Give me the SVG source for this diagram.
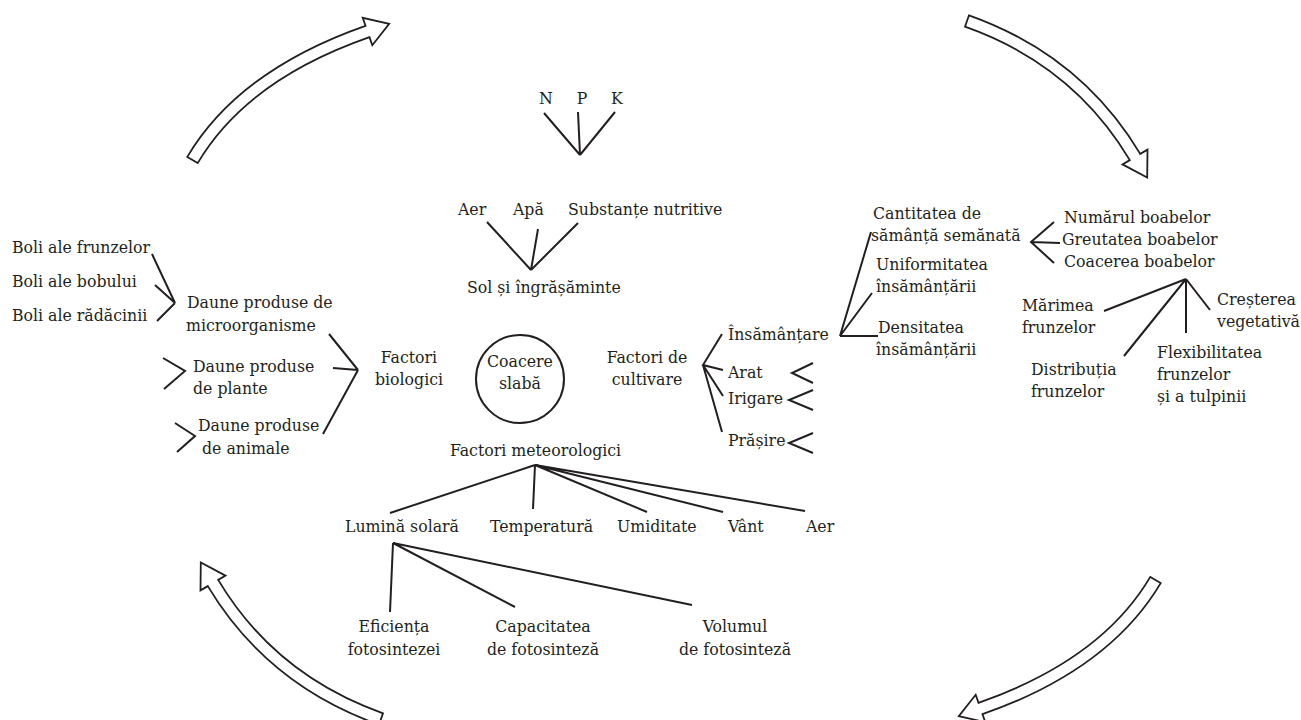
<svg xmlns="http://www.w3.org/2000/svg" width="1301" height="720" viewBox="0 0 1301 720">
  <style>
    .t { font-family: "DejaVu Serif", "Liberation Serif", serif; font-stretch: condensed; font-size: 17.5px; fill: #231f20; }
    .m { text-anchor: middle; }
    .ln { fill: none; stroke: #231f20; stroke-width: 2; stroke-linejoin: miter; stroke-linecap: butt; }
    .blk { fill: #ffffff; stroke: #231f20; stroke-width: 1.8; stroke-linejoin: miter; }
  </style>
  <defs>
    <!-- curved block arrow rising to the upper right -->
    <path id="arrowRise" d="M187.3,156.9 Q238.9,70.1 365.5,25.8 L362.7,17.8 L389.2,23.9 L372.3,45.2 L369.5,37.2 Q246.9,79.9 197.7,163.1 Z"/>
    <!-- curved block arrow falling to the lower right -->
    <path id="arrowFall" d="M969,15.3 Q1081,55.1 1140.2,153.9 L1147.5,149.6 L1147.2,177.6 L1122.5,164.4 L1129.8,160.1 Q1073,64.9 965,26.7 Z"/>
  </defs>

  <rect width="1301" height="720" fill="#ffffff"/>

  <!-- cycle arrows around the diagram -->
  <g id="cycle-arrows">
    <use href="#arrowRise" class="blk"/>
    <use href="#arrowFall" class="blk"/>
    <use href="#arrowRise" class="blk" transform="rotate(180 674 370)"/>
    <use href="#arrowFall" class="blk" transform="rotate(180 674 370)"/>
  </g>

  <g id="connectors">
    <!-- N P K -->
    <path class="ln" d="M544,113 L580,155 M578,112 L580,155 M615,112 L580,155"/>
    <!-- Aer / Apa / Substante -> Sol -->
    <path class="ln" d="M487,222 L531,270 M538,229 L531,270 M578,223 L531,270"/>
    <!-- Boli -> Daune microorganisme -->
    <path class="ln" d="M152,254 L175,303 M155,285 L175,303 M157,321 L175,303"/>
    <!-- open brackets before plant / animal damage -->
    <path class="ln" d="M163,358 L185,371 L164,389"/>
    <path class="ln" d="M175,423 L195,436 L177,452"/>
    <!-- Daune -> Factori biologici -->
    <path class="ln" d="M329,334 L358,370 M333,368 L358,370 M358,370 L323,434"/>
    <!-- Factori de cultivare -->
    <path class="ln" d="M722,334 L703,365 L723,370 M703,365 L723,396 M703,365 L722,432"/>
    <!-- open brackets after Arat / Irigare / Prasire -->
    <path class="ln" d="M813,363 L792,373 L813,383"/>
    <path class="ln" d="M813,390 L789,400 L813,410"/>
    <path class="ln" d="M813,433 L789,443 L813,453"/>
    <!-- Insamantare -> sub-factors -->
    <path class="ln" d="M871,232 L840,336 L872,293 M840,336 L878,336"/>
    <!-- samanta semanata -> boabe -->
    <path class="ln" d="M1054,222 L1031,242 L1054,263 M1031,242 L1060,243"/>
    <!-- Coacerea boabelor -> leaf / stem factors -->
    <path class="ln" d="M1186,279 L1104,311 M1186,279 L1124,356 M1186,279 L1186,333 M1186,279 L1210,310"/>
    <!-- Factori meteorologici -->
    <path class="ln" d="M535,465 L390,513 M535,465 L533,509 M535,465 L647,512 M535,465 L723,512 M535,465 L805,511"/>
    <!-- Lumina solara -->
    <path class="ln" d="M393,543 L390,612 M393,543 L515,607 M393,543 L692,605"/>
  </g>

  <g id="npk">
    <text class="t m" x="546" y="104">N</text>
    <text class="t m" x="582" y="104">P</text>
    <text class="t m" x="617" y="104">K</text>
  </g>
  <g id="aer"><text class="t" x="458" y="215">Aer</text></g>
  <g id="apa"><text class="t" x="513" y="215">Apă</text></g>
  <g id="substante"><text class="t" x="568" y="215">Substanțe nutritive</text></g>
  <g id="sol"><text class="t" x="467" y="293">Sol și îngrășăminte</text></g>

  <g id="boli-frunze"><text class="t" x="12" y="253">Boli ale frunzelor</text></g>
  <g id="boli-bob"><text class="t" x="12" y="287">Boli ale bobului</text></g>
  <g id="boli-radacina"><text class="t" x="12" y="321">Boli ale rădăcinii</text></g>
  <g id="daune-micro">
    <text class="t" x="187" y="308">Daune produse de</text>
    <text class="t" x="186" y="331">microorganisme</text>
  </g>
  <g id="daune-plante">
    <text class="t" x="193" y="372">Daune produse</text>
    <text class="t" x="193" y="394">de plante</text>
  </g>
  <g id="daune-animale">
    <text class="t" x="198" y="431">Daune produse</text>
    <text class="t" x="202" y="454">de animale</text>
  </g>
  <g id="factori-biologici">
    <text class="t m" x="409" y="363">Factori</text>
    <text class="t m" x="409" y="385">biologici</text>
  </g>

  <g id="coacere-slaba">
    <circle cx="520" cy="379" r="44" class="ln"/>
    <text class="t m" x="520" y="367">Coacere</text>
    <text class="t m" x="520" y="389">slabă</text>
  </g>

  <g id="factori-cultivare">
    <text class="t m" x="647" y="363">Factori de</text>
    <text class="t m" x="647" y="385">cultivare</text>
  </g>
  <g id="insamantare"><text class="t" x="728" y="340">Însămânțare</text></g>
  <g id="arat"><text class="t" x="728" y="378">Arat</text></g>
  <g id="irigare"><text class="t" x="728" y="404">Irigare</text></g>
  <g id="prasire"><text class="t" x="728" y="446">Prășire</text></g>

  <g id="cantitate-samanta">
    <text class="t" x="873" y="219">Cantitatea de</text>
    <text class="t" x="871" y="241">sămânță semănată</text>
  </g>
  <g id="uniformitate">
    <text class="t" x="876" y="270">Uniformitatea</text>
    <text class="t" x="876" y="292">însămânțării</text>
  </g>
  <g id="densitate">
    <text class="t" x="878" y="333">Densitatea</text>
    <text class="t" x="876" y="355">însămânțării</text>
  </g>

  <g id="numar-boabe"><text class="t" x="1064" y="223">Numărul boabelor</text></g>
  <g id="greutate-boabe"><text class="t" x="1062" y="245">Greutatea boabelor</text></g>
  <g id="coacere-boabe"><text class="t" x="1064" y="267">Coacerea boabelor</text></g>
  <g id="marime-frunze">
    <text class="t" x="1022" y="311">Mărimea</text>
    <text class="t" x="1022" y="333">frunzelor</text>
  </g>
  <g id="distributie-frunze">
    <text class="t" x="1031" y="375">Distribuția</text>
    <text class="t" x="1031" y="397">frunzelor</text>
  </g>
  <g id="flexibilitate">
    <text class="t" x="1157" y="358">Flexibilitatea</text>
    <text class="t" x="1157" y="380">frunzelor</text>
    <text class="t" x="1157" y="402">și a tulpinii</text>
  </g>
  <g id="crestere-vegetativa">
    <text class="t" x="1217" y="305">Creșterea</text>
    <text class="t" x="1217" y="327">vegetativă</text>
  </g>

  <g id="factori-meteo"><text class="t" x="450" y="456">Factori meteorologici</text></g>
  <g id="lumina"><text class="t" x="345" y="532">Lumină solară</text></g>
  <g id="temperatura"><text class="t" x="490" y="532">Temperatură</text></g>
  <g id="umiditate"><text class="t" x="617" y="532">Umiditate</text></g>
  <g id="vant"><text class="t" x="728" y="532">Vânt</text></g>
  <g id="aer-meteo"><text class="t" x="806" y="532">Aer</text></g>

  <g id="eficienta">
    <text class="t m" x="394" y="632">Eficiența</text>
    <text class="t m" x="394" y="655">fotosintezei</text>
  </g>
  <g id="capacitate">
    <text class="t m" x="543" y="632">Capacitatea</text>
    <text class="t m" x="543" y="655">de fotosinteză</text>
  </g>
  <g id="volum">
    <text class="t m" x="735" y="632">Volumul</text>
    <text class="t m" x="735" y="655">de fotosinteză</text>
  </g>
</svg>
